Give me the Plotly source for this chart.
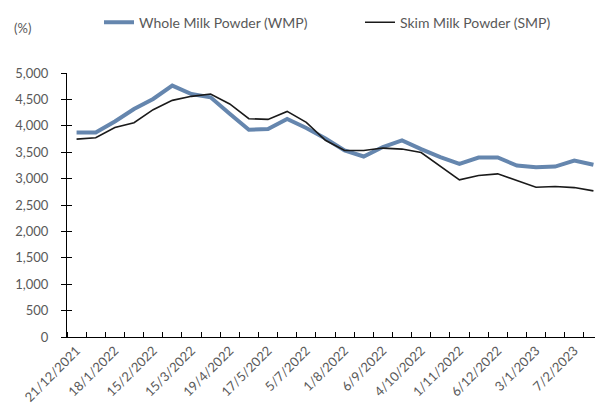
import plotly.graph_objects as go

dates = ["21/12/2021", "4/1/2022", "18/1/2022", "1/2/2022", "15/2/2022", "1/3/2022",
         "15/3/2022", "5/4/2022", "19/4/2022", "3/5/2022", "17/5/2022", "7/6/2022",
         "5/7/2022", "19/7/2022", "1/8/2022", "16/8/2022", "6/9/2022", "20/9/2022",
         "4/10/2022", "18/10/2022", "1/11/2022", "15/11/2022", "6/12/2022", "20/12/2022",
         "3/1/2023", "17/1/2023", "7/2/2023", "21/2/2023"]

wmp = [3874, 3874, 4083, 4318, 4508, 4761, 4603, 4539, 4229, 3925, 3938, 4128,
       3958, 3760, 3532, 3418, 3597, 3722, 3559, 3407, 3280, 3400, 3400, 3247,
       3217, 3228, 3342, 3261]

smp = [3748, 3773, 3969, 4058, 4305, 4482, 4558, 4603, 4413, 4134, 4121, 4273,
       4064, 3725, 3532, 3532, 3578, 3559, 3494, 3242, 2976, 3058, 3090, 2963,
       2837, 2849, 2830, 2767]

y_ticks = list(range(0, 5001, 500))
label_every = 2

x = list(range(len(dates)))
FONT = "Lato"
TXT = "#595959"

fig = go.Figure()
fig.add_trace(go.Scatter(x=x, y=wmp, mode="lines", name="Whole Milk Powder (WMP)",
                         line=dict(color="#6586AE", width=4)))
fig.add_trace(go.Scatter(x=x, y=smp, mode="lines", name="Skim Milk Powder (SMP)",
                         line=dict(color="#1a1a1a", width=1.6)))
# helper invisible trace for inside y ticks (cross-tick look)
fig.add_trace(go.Scatter(x=[x[0]], y=[0], yaxis="y2", mode="markers",
                         marker=dict(opacity=0), showlegend=False, hoverinfo="skip"))

# page body has an 8px margin, so the figure is sized/placed to compensate
fig.update_layout(
    width=595, height=402,
    margin=dict(l=59, r=0, t=65, b=73, autoexpand=False),
    paper_bgcolor="white", plot_bgcolor="white",
    font=dict(family=FONT, size=12, color=TXT),
    showlegend=True,
    legend=dict(orientation="h", x=0.0597, xanchor="left", y=1.191, yanchor="middle",
                font=dict(family=FONT, size=14, color=TXT),
                entrywidth=216, entrywidthmode="pixels",
                bgcolor="rgba(0,0,0,0)"),
    xaxis=dict(
        range=[-0.5, len(dates) - 0.5],
        tickmode="array",
        tickvals=x[::label_every],
        ticktext=dates[::label_every],
        tickangle=-45,
        ticks="",
        automargin=False,
        showline=True, linecolor="#000000", linewidth=1,
        showgrid=False, zeroline=False,
        tickfont=dict(family=FONT, size=13, color=TXT),
        minor=dict(ticks="inside", tick0=-0.5, dtick=1, ticklen=5,
                   tickcolor="#000000", tickwidth=1, showgrid=False),
    ),
    yaxis=dict(
        range=[0, 5000],
        tickmode="array", tickvals=y_ticks,
        ticktext=[f"{v:,}" for v in y_ticks],
        ticks="outside", ticklen=5, tickcolor="#000000", tickwidth=1,
        automargin=False,
        showline=True, linecolor="#000000", linewidth=1,
        showgrid=False, zeroline=False,
        tickfont=dict(family=FONT, size=13, color=TXT),
        ticklabelstandoff=10,
    ),
    yaxis2=dict(
        range=[0, 5000], overlaying="y", side="left",
        tickmode="array", tickvals=y_ticks, automargin=False,
        ticks="inside", ticklen=5, tickcolor="#000000", tickwidth=1,
        showticklabels=False, showline=False, showgrid=False, zeroline=False,
    ),
    annotations=[dict(text="(%)", xref="paper", yref="paper", x=-0.103, y=1.172,
                      xanchor="left", yanchor="middle", showarrow=False,
                      font=dict(family=FONT, size=13, color=TXT))],
)

fig.write_html("out.html")
